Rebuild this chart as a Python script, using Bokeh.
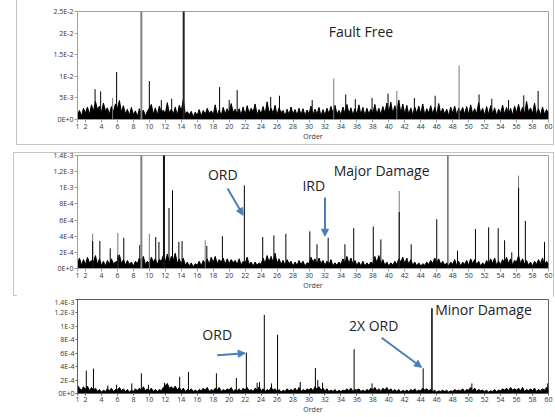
from bokeh.plotting import figure
from bokeh.layouts import column
from bokeh.models import Label, Arrow, NormalHead, FixedTicker
from bokeh.embed import file_html
from bokeh.resources import INLINE

# ---------------- data ----------------
order_ticks = [1, 2, 4, 6, 8, 10, 12, 14, 16, 18, 20, 22, 24, 26, 28, 30, 32, 34,
               36, 38, 40, 42, 44, 46, 48, 50, 52, 54, 56, 58, 60]
orders = [1 + 0.25 * i for i in range(237)]

# Fault free (units of 1E-3)
ff_ticks = [0, 5, 10, 15, 20, 25]
ff_labels = ["0E+0", "5E-3", "1E-2", "1.5E-2", "2E-2", "2.5E-2"]
ff_floor = [
    1.2, 2.1, 0.8, 2.6, 1.5, 2.9, 1.1, 3.4, 1.9, 4.2, 2.3, 3.1, 1.6, 3.8, 2.0, 2.7,
    1.2, 3.0, 1.8, 3.6, 2.5, 4.4, 1.7, 3.2, 1.3, 2.4, 0.9, 2.8, 1.1, 2.0, 0.7, 2.5,
    1.4, 2.2, 0.8, 1.9, 2.6, 3.5, 1.2, 2.7, 1.0, 3.1, 1.6, 2.2, 1.3, 3.9, 1.5, 2.4,
    1.2, 2.9, 0.9, 3.3, 2.0, 4.6, 1.3, 1.8, 1.1, 1.9, 0.6, 1.7, 1.0, 2.3, 0.8, 2.1,
    1.2, 2.6, 1.4, 2.0, 1.1, 3.4, 1.0, 2.2, 0.9, 2.8, 1.3, 2.5, 1.4, 3.7, 1.6, 2.4,
    1.2, 2.5, 1.0, 2.9, 1.0, 3.2, 1.5, 2.6, 1.7, 3.6, 1.1, 2.3, 1.3, 3.0, 1.2, 4.1,
    1.5, 2.6, 1.4, 3.3, 1.0, 2.7, 1.6, 2.1, 0.8, 2.4, 1.1, 2.9, 1.2, 2.3, 1.0, 2.6,
    1.1, 2.5, 0.9, 2.2, 1.3, 3.1, 1.0, 2.4, 1.2, 2.8, 0.8, 2.3, 1.0, 2.6, 1.3, 3.0,
    1.5, 3.3, 1.2, 2.1, 1.1, 2.9, 1.4, 3.5, 1.3, 2.7, 1.0, 2.5, 1.2, 3.4, 1.1, 2.8,
    0.9, 2.6, 1.3, 2.4, 1.4, 3.5, 1.2, 2.6, 1.1, 3.0, 1.5, 3.8, 1.6, 4.0, 1.3, 3.2,
    1.8, 4.5, 1.4, 3.6, 1.2, 3.3, 1.1, 2.7, 1.0, 2.9, 1.4, 3.1, 1.3, 3.6, 1.0, 2.5,
    1.5, 3.2, 1.2, 2.8, 1.1, 3.7, 1.3, 2.6, 1.2, 2.4, 0.9, 2.9, 1.4, 3.1, 1.0, 2.7,
    1.6, 2.8, 1.2, 3.0, 1.1, 3.4, 1.3, 2.5, 1.3, 3.9, 1.4, 2.6, 1.0, 3.0, 1.1, 3.2,
    1.2, 2.7, 0.9, 2.4, 1.4, 3.3, 1.2, 2.8, 1.1, 2.6, 1.0, 3.1, 1.5, 3.5, 1.3, 2.9,
    1.2, 4.2, 1.6, 2.7, 1.3, 3.8, 1.1, 2.5, 1.0, 2.9, 1.2, 2.3, 1.4]
ff_peak_x = [3.2, 3.9, 5.9, 10.0, 11.5, 12.8, 18.8, 20.0, 21.0, 25.2, 26.3, 30.4,
             34.6, 35.8, 37.9, 39.9, 43.2, 45.8, 51.3, 52.9, 55.0, 56.9, 58.7]
ff_peak_y = [7.0, 6.5, 11.0, 8.9, 4.5, 4.8, 7.5, 4.5, 6.8, 5.2, 5.5, 4.5,
             5.8, 4.7, 5.0, 6.0, 5.0, 5.5, 5.8, 4.8, 4.5, 5.6, 6.6]
ff_grey_x = [5.4, 33.1, 41.0, 48.8]
ff_grey_y = [5.0, 9.5, 6.6, 12.5]
ff_tall_grey_x = [9.0]
ff_tall_black_x = [14.3]
ff_tall_y = [30.0]

# Major damage (units of 1E-4)
dmg_ticks = [0, 2, 4, 6, 8, 10, 12, 14]
dmg_labels = ["0E+0", "2E-4", "4E-4", "6E-4", "8E-4", "1E-3", "1.2E-3", "1.4E-3"]
maj_floor = [
    0.6, 1.3, 0.4, 1.1, 0.5, 1.4, 0.7, 1.0, 0.8, 1.6, 0.5, 1.2, 0.4, 0.9, 0.3, 1.0,
    0.5, 1.2, 0.6, 0.8, 0.9, 1.7, 0.6, 1.1, 0.4, 1.0, 0.5, 0.8, 0.3, 0.9, 0.6, 1.3,
    0.7, 1.5, 0.5, 0.9, 0.6, 1.4, 0.8, 1.2, 0.5, 1.1, 0.9, 1.6, 0.8, 1.8, 0.7, 1.5,
    1.0, 1.9, 0.6, 1.2, 0.5, 1.3, 0.4, 0.8, 0.3, 0.7, 0.2, 0.6, 0.4, 0.9, 0.3, 1.0,
    0.6, 1.2, 0.5, 1.4, 0.7, 1.5, 0.6, 1.1, 0.8, 1.3, 0.5, 1.2, 0.6, 1.1, 0.7, 1.0,
    0.5, 1.2, 0.4, 0.9, 0.6, 1.4, 0.5, 0.8, 0.3, 0.8, 0.4, 0.7, 0.5, 1.3, 0.6, 1.6,
    0.8, 1.5, 0.7, 1.9, 0.6, 1.2, 0.5, 1.0, 0.4, 1.1, 0.6, 0.9, 0.3, 0.8, 0.4, 1.0,
    0.5, 0.9, 0.3, 0.7, 0.6, 1.4, 0.8, 1.2, 0.5, 1.3, 0.6, 1.0, 0.4, 0.9, 0.5, 1.1,
    0.3, 0.7, 0.4, 0.8, 0.5, 1.2, 0.7, 1.5, 0.6, 1.3, 0.5, 1.0, 0.4, 0.8, 0.3, 0.9,
    0.3, 0.7, 0.4, 0.8, 0.6, 1.5, 0.7, 1.6, 0.5, 1.1, 0.4, 0.8, 0.3, 0.7, 0.4, 0.9,
    0.5, 1.2, 0.8, 1.4, 0.6, 1.3, 0.5, 1.1, 0.4, 0.8, 0.3, 0.7, 0.3, 0.6, 0.4, 0.8,
    0.5, 1.0, 0.6, 1.3, 0.7, 1.2, 0.5, 0.9, 0.4, 0.7, 0.3, 0.8, 0.5, 1.1, 0.4, 0.9,
    0.3, 0.8, 0.5, 1.0, 0.4, 1.2, 0.6, 1.1, 0.5, 0.9, 0.3, 0.7, 0.4, 1.0, 0.5, 1.2,
    0.6, 1.3, 0.4, 0.9, 0.5, 1.1, 0.7, 1.4, 0.6, 1.2, 0.4, 1.0, 0.8, 1.6, 0.6, 1.2,
    0.5, 1.0, 0.4, 0.8, 0.3, 0.9, 0.5, 1.1, 0.6, 1.3, 0.4, 0.9, 0.5]
maj_peak_x = [2.9, 3.8, 5.1, 6.05, 6.8, 8.8, 10.8, 11.2, 12.46, 12.9, 13.7, 14.1,
              17.2, 19.15, 21.9, 24.2, 25.6, 27.1, 30.1, 31.0, 32.4, 34.5, 35.6,
              38.05, 39.0, 41.3, 42.8, 46.0, 48.6, 50.85, 52.5, 53.7, 54.5, 55.4,
              56.25, 57.1, 59.5]
maj_peak_y = [3.4, 3.4, 2.5, 1.7, 3.8, 2.9, 3.9, 3.3, 7.5, 9.7, 3.3, 3.4,
              2.8, 4.0, 10.3, 3.9, 4.1, 4.3, 4.6, 3.0, 3.8, 3.0, 5.0,
              5.2, 3.6, 7.0, 3.0, 6.1, 2.2, 4.9, 5.1, 5.0, 3.5, 2.0,
              10.0, 5.9, 3.3]
maj_grey_x = [2.9, 6.05, 10.0, 17.0, 41.3, 56.25]
maj_grey_y = [4.3, 4.4, 4.3, 3.5, 9.6, 11.5]
maj_tall_grey_x = [9.0]
maj_tall_black_x = [11.83]
maj_thin_black_x = [47.4]
maj_tall_y = [20.0]

# Minor damage (units of 1E-4)
min_floor = [
    1.2, 0.8, 0.5, 1.0, 0.6, 1.1, 0.4, 0.9, 0.5, 0.8, 0.3, 0.6, 0.2, 0.5, 0.3, 0.7,
    0.4, 0.8, 0.3, 0.6, 0.5, 0.9, 0.4, 0.7, 0.3, 0.6, 0.2, 0.5, 0.3, 0.7, 0.4, 0.8,
    0.5, 1.0, 0.4, 0.7, 0.4, 0.8, 0.3, 0.6, 0.3, 0.6, 0.4, 0.9, 1.2, 1.5, 0.8, 1.0,
    0.7, 1.1, 0.5, 0.9, 0.4, 0.8, 0.3, 0.6, 0.4, 0.7, 0.3, 0.5, 0.3, 0.6, 0.4, 0.8,
    0.5, 0.9, 0.3, 0.6, 0.4, 0.8, 0.5, 0.9, 0.3, 0.6, 0.4, 0.7, 0.5, 0.9, 0.3, 0.6,
    0.4, 0.7, 0.3, 0.8, 0.5, 0.9, 0.4, 0.6, 0.3, 0.8, 0.5, 1.0, 0.4, 0.7, 0.3, 0.6,
    0.4, 0.9, 0.5, 0.7, 0.3, 0.6, 0.2, 0.5, 0.3, 0.7, 0.4, 0.6, 0.4, 0.8, 0.3, 0.9,
    0.3, 0.6, 0.4, 0.7, 0.5, 0.8, 0.4, 1.0, 0.6, 1.0, 0.5, 0.8, 0.4, 0.7, 0.3, 0.5,
    0.3, 0.6, 0.2, 0.5, 0.3, 0.5, 0.4, 0.7, 0.4, 0.8, 0.3, 0.6, 0.5, 0.7, 0.3, 0.5,
    0.3, 0.6, 0.4, 0.8, 0.5, 0.9, 0.4, 0.7, 0.3, 0.8, 0.5, 0.9, 0.4, 0.7, 0.3, 0.6,
    0.3, 0.6, 0.2, 0.5, 0.3, 0.5, 0.3, 0.6, 0.4, 0.7, 0.3, 0.5, 0.4, 0.8, 0.5, 0.7,
    0.4, 0.6, 0.3, 0.5, 0.2, 0.4, 0.3, 0.5, 0.3, 0.5, 0.2, 0.4, 0.3, 0.6, 0.4, 0.5,
    0.4, 0.7, 0.3, 0.6, 0.5, 0.9, 0.4, 0.8, 0.3, 0.6, 0.4, 0.5, 0.3, 0.5, 0.2, 0.4,
    0.3, 0.6, 0.3, 0.5, 0.4, 0.7, 0.5, 0.8, 0.4, 0.9, 0.5, 0.7, 0.5, 0.8, 0.4, 0.9,
    0.3, 0.6, 0.4, 0.7, 0.4, 0.8, 0.3, 0.6, 0.4, 0.7, 0.5, 0.9, 0.6]
min_peak_x = [1.0, 2.1, 3.0, 4.8, 5.9, 7.8, 9.0, 9.9, 11.9, 13.8, 14.9, 18.4,
              20.9, 22.15, 23.5, 23.8, 24.4, 25.3, 26.06, 28.9, 30.8, 31.1, 31.7,
              35.65, 37.9, 44.3, 50.4, 59.9]
min_peak_y = [3.6, 3.4, 3.7, 1.2, 1.3, 1.5, 3.0, 1.3, 1.6, 2.5, 3.2, 3.0,
              2.3, 6.1, 1.6, 1.7, 11.7, 1.5, 8.75, 1.7, 3.8, 2.0, 1.6,
              6.6, 1.5, 3.75, 1.5, 1.5]
min_tall_x = [45.4]
min_tall_y = [12.7]

# ---------------- styling helpers ----------------
FONT = "Open Sans"
BLUE = "#4a7ebb"
TICK_COLOR = "#333333"
BOX_COLOR = "#c4c4c4"
GRAD = "linear-gradient(%s, %s)" % (BOX_COLOR, BOX_COLOR)


def make_fig(width, height, ml, mr, mt, mb, ymax, yticks, ylabels, frame_color,
             tick_out=3):
    p = figure(width=width, height=height, x_range=(1, 60), y_range=(0, ymax),
               output_backend="svg", toolbar_location=None,
               min_border_left=ml, min_border_right=mr,
               min_border_top=mt, min_border_bottom=mb)
    p.grid.visible = False
    p.outline_line_color = frame_color
    p.outline_line_width = 1
    p.background_fill_color = "white"
    p.border_fill_color = None
    p.xaxis.ticker = FixedTicker(ticks=order_ticks)
    p.yaxis.ticker = FixedTicker(ticks=yticks)
    p.yaxis.major_label_overrides = {t: l for t, l in zip(yticks, ylabels)}
    for ax in (p.xaxis[0], p.yaxis[0]):
        ax.axis_line_color = frame_color
        ax.major_tick_line_color = frame_color
        ax.major_tick_out = tick_out
        ax.major_tick_in = 0
        ax.minor_tick_line_color = None
        ax.major_label_text_font = FONT
        ax.major_label_text_font_size = "7px"
        ax.major_label_text_color = TICK_COLOR
        ax.major_label_standoff = 1
    p.xaxis.axis_label = "Order"
    p.xaxis.axis_label_text_font = FONT
    p.xaxis.axis_label_text_font_size = "7px"
    p.xaxis.axis_label_text_font_style = "normal"
    p.xaxis.axis_label_text_color = TICK_COLOR
    p.xaxis.axis_label_standoff = 0
    return p


def box_lines(sizes, positions):
    # thin grey panel-border lines painted behind the transparent canvas
    return {
        "background-color": "white",
        "background-image": ", ".join([GRAD] * len(sizes)),
        "background-size": ", ".join(sizes),
        "background-position": ", ".join(positions),
        "background-repeat": "no-repeat",
    }


def draw_spectrum(p, floor, grey_x, grey_y, black_x, black_y):
    p.varea(x=orders, y1=[0] * len(orders), y2=floor, fill_color="black")
    p.line(orders, floor, color="black", line_width=1)
    p.segment(x0=grey_x, y0=[0] * len(grey_x), x1=grey_x, y1=grey_y,
              color="#7a7a7a", line_width=1)
    p.segment(x0=black_x, y0=[0] * len(black_x), x1=black_x, y1=black_y,
              color="black", line_width=1)


def add_label(p, x, y, text, size="14px", align="center"):
    p.add_layout(Label(x=x, y=y, text=text, text_font=FONT, text_font_size=size,
                       text_color="#222222", text_align=align, text_baseline="middle"))


def add_arrow(p, xs, ys, xe, ye):
    p.add_layout(Arrow(end=NormalHead(size=7, fill_color=BLUE, line_color=BLUE),
                       x_start=xs, y_start=ys, x_end=xe, y_end=ye,
                       line_color=BLUE, line_width=2))


# ---------------- panel 1: fault free ----------------
p1 = make_fig(554, 145, 77, 6, 11, 26, 25, ff_ticks, ff_labels, "#a0a0a0")
p1.styles = box_lines(["1px 145px", "538px 1px", "1px 145px"],
                      ["16px 0px", "16px 144px", "553px 0px"])
draw_spectrum(p1, ff_floor, ff_grey_x, ff_grey_y, ff_peak_x, ff_peak_y)
p1.segment(x0=ff_tall_grey_x, y0=[0], x1=ff_tall_grey_x, y1=ff_tall_y,
           color="#808080", line_width=2)
p1.segment(x0=ff_tall_black_x, y0=[0], x1=ff_tall_black_x, y1=ff_tall_y,
           color="#222222", line_width=2)
add_label(p1, 36.5, 20.3, "Fault Free")

# ---------------- panel 2: major damage ----------------
p2 = make_fig(554, 152, 77, 6, 10, 29, 14, dmg_ticks, dmg_labels, "#a0a0a0")
p2.styles = box_lines(["541px 1px", "1px 144px", "4px 1px", "1px 145px"],
                      ["13px 7px", "13px 7px", "13px 150px", "553px 7px"])
draw_spectrum(p2, maj_floor, maj_grey_x, maj_grey_y, maj_peak_x, maj_peak_y)
p2.segment(x0=maj_tall_grey_x, y0=[0], x1=maj_tall_grey_x, y1=maj_tall_y,
           color="#808080", line_width=2)
p2.segment(x0=maj_tall_black_x, y0=[0], x1=maj_tall_black_x, y1=maj_tall_y,
           color="#111111", line_width=2)
p2.segment(x0=maj_thin_black_x, y0=[0], x1=maj_thin_black_x, y1=maj_tall_y,
           color="#222222", line_width=1)
add_label(p2, 19.2, 11.7, "ORD")
add_arrow(p2, 19.8, 9.9, 21.75, 6.6)
add_label(p2, 30.6, 10.3, "IRD")
add_arrow(p2, 32.0, 8.8, 32.0, 4.0)
add_label(p2, 39.1, 12.2, "Major Damage")

# ---------------- panel 3: minor damage ----------------
p3 = make_fig(554, 119, 71, 5, 2, 21, 14, dmg_ticks, dmg_labels, "#606060",
              tick_out=2)
p3.border_fill_color = "white"
draw_spectrum(p3, min_floor, [], [], min_peak_x, min_peak_y)
p3.segment(x0=min_tall_x, y0=[0], x1=min_tall_x, y1=min_tall_y,
           color="black", line_width=1.5)
add_label(p3, 18.5, 8.75, "ORD")
add_arrow(p3, 18.5, 5.7, 22.0, 6.0)
add_label(p3, 38.1, 10.2, "2X ORD")
add_arrow(p3, 39.1, 8.3, 44.1, 3.9)
add_label(p3, 45.8, 12.5, "Minor Damage", align="left")

layout = column(p1, p2, p3, spacing=0)
open("out.html", "w").write(file_html(layout, INLINE))
